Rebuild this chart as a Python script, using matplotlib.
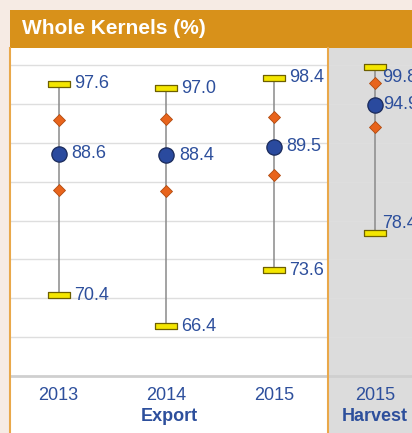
import matplotlib
matplotlib.use("Agg")
import matplotlib.pyplot as plt
from matplotlib.patches import Rectangle

# values
export_years = ["2013", "2014", "2015"]
export_max = [97.6, 97.0, 98.4]
export_upper = [93.0, 93.1, 93.3]
export_mean = [88.6, 88.4, 89.5]
export_lower = [83.9, 83.8, 85.8]
export_min = [70.4, 66.4, 73.6]

harvest_years = ["2015"]
harvest_max = [99.8]
harvest_upper = [97.7]
harvest_mean = [94.9]
harvest_lower = [92.1]
harvest_min = [78.4]

W, H = 412, 433
BLUE = "#2d4f9c"
ORANGE = "#d8911a"
GRID_TICKS = [65, 70, 75, 80, 85, 90, 95, 100]

plt.rcParams["font.family"] = ["Liberation Sans", "DejaVu Sans"]

CAP = [(-1, -0.23), (1, -0.23), (1, 0.23), (-1, 0.23), (-1, -0.23)]


def fx(px):
    return px / W


def fy(py):
    return 1 - py / H


def draw_panel(ax, years, mx, up, mean, lo, mn, top_dy, bot_dy, lab_dx, cap_dx):
    xs = list(range(len(years)))
    for i, x in enumerate(xs):
        ax.plot([x, x], [mn[i], mx[i]], color="#8a8a8a", lw=1.1, zorder=2)
    ax.plot(xs, mx, ls="none", marker=CAP, ms=16, mfc="#f4e600", mec="#6e6000", mew=0.9, zorder=3)
    ax.plot(xs, mn, ls="none", marker=CAP, ms=16, mfc="#f4e600", mec="#6e6000", mew=0.9, zorder=3)
    ax.plot(xs, up, ls="none", marker="D", ms=6.5, mfc="#e8641c", mec="#b04a10", mew=0.6, zorder=3)
    ax.plot(xs, lo, ls="none", marker="D", ms=6.5, mfc="#e8641c", mec="#b04a10", mew=0.6, zorder=3)
    ax.plot(xs, mean, ls="none", marker="o", ms=11, mfc="#2a4a9e", mec="#1a2a5a", mew=0.9, zorder=4)
    for i, x in enumerate(xs):
        kw = dict(textcoords="offset points", color=BLUE, fontsize=13, va="center", ha="left",
                  annotation_clip=False)
        ax.annotate(f"{mx[i]:.1f}", (x, mx[i]), xytext=(cap_dx, top_dy), **kw)
        ax.annotate(f"{mean[i]:.1f}", (x, mean[i]), xytext=(lab_dx, 0), **kw)
        ax.annotate(f"{mn[i]:.1f}", (x, mn[i]), xytext=(cap_dx, bot_dy), **kw)
    ax.set_xticks(xs)
    ax.set_xticklabels(years, color=BLUE, fontsize=13)
    ax.tick_params(axis="x", length=0, pad=8)
    ax.set_yticks(GRID_TICKS)
    ax.tick_params(axis="y", length=0, labelleft=False)
    ax.grid(axis="y", color="#dedede", lw=1)
    ax.set_axisbelow(True)
    ax.set_ylim(60, 102.2)
    ax.set_facecolor("none")
    for s in ax.spines.values():
        s.set_visible(False)
    ax.axhline(60, color="#cfcfcf", lw=2, clip_on=False)


fig = plt.figure(figsize=(W / 100, H / 100), dpi=100, facecolor="#f6ebe4")

# panel backgrounds and header band
fig.patches.append(Rectangle((fx(10), 0), fx(318), fy(48), transform=fig.transFigure,
                             facecolor="white", edgecolor="none", zorder=-5))
fig.patches.append(Rectangle((fx(328), 0), fx(84), fy(48), transform=fig.transFigure,
                             facecolor="#dcdcdc", edgecolor="none", zorder=-5))
fig.patches.append(Rectangle((fx(10), fy(48)), fx(402), 38 / H, transform=fig.transFigure,
                             facecolor=ORANGE, edgecolor="none", zorder=-5))
fig.add_artist(plt.Line2D([fx(10), fx(10)], [0, fy(48)], color="#e9a84a", lw=1.5, zorder=5))
fig.add_artist(plt.Line2D([fx(328), fx(328)], [0, fy(48)], color="#e9a84a", lw=1.5, zorder=5))
fig.text(fx(22), fy(29), "Whole Kernels (%)", color="white", fontsize=15, fontweight="bold",
         va="center", ha="left")

bottom = fy(376)
height = (376 - 48) / H
ax1 = fig.add_axes([fx(10), bottom, fx(318), height])
draw_panel(ax1, export_years, export_max, export_upper, export_mean, export_lower, export_min,
           top_dy=0, bot_dy=0, lab_dx=9, cap_dx=11)
ax1.set_xlim(-0.45, 2.5)
ax1.annotate("Export", (0.5, 0), xycoords="axes fraction", xytext=(0, -29),
             textcoords="offset points", ha="center", va="center", color=BLUE,
             fontsize=13, fontweight="bold", annotation_clip=False)

ax2 = fig.add_axes([fx(328), bottom, fx(84), height])
draw_panel(ax2, harvest_years, harvest_max, harvest_upper, harvest_mean, harvest_lower, harvest_min,
           top_dy=-8, bot_dy=7, lab_dx=6, cap_dx=5)
ax2.set_xlim(-0.56, 0.44)
ax2.annotate("Harvest", (0.56, 0), xycoords="axes fraction", xytext=(0, -29),
             textcoords="offset points", ha="center", va="center", color=BLUE,
             fontsize=13, fontweight="bold", annotation_clip=False)

fig.savefig("out.png", dpi=100, facecolor=fig.get_facecolor())
